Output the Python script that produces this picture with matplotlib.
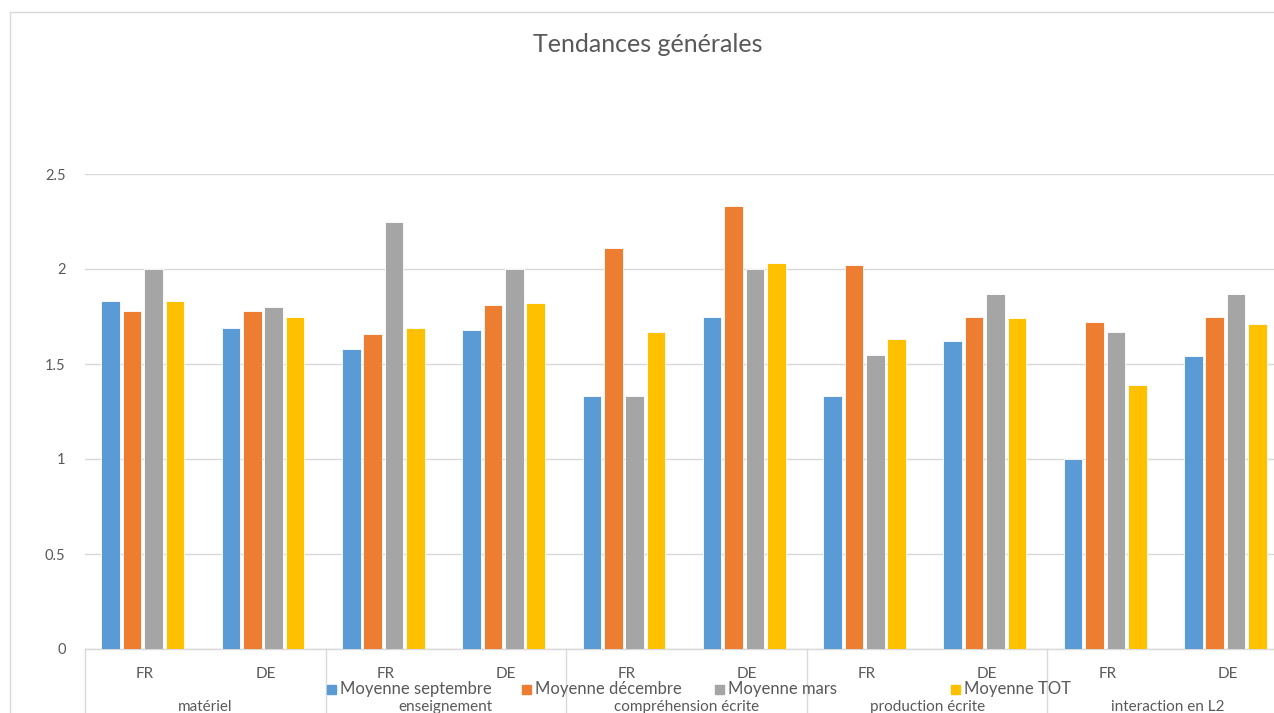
import numpy as np
import matplotlib.pyplot as plt
from matplotlib.lines import Line2D
from matplotlib.patches import Rectangle
from matplotlib.transforms import blended_transform_factory

plt.rcParams['font.family'] = ['Lato', 'DejaVu Sans']

# Données : 5 thèmes x 2 langues, 4 moyennes
themes = ['matériel', 'enseignement', 'compréhension écrite', 'production écrite', 'interaction en L2']
langues = ['FR', 'DE']
series = ['Moyenne septembre', 'Moyenne décembre', 'Moyenne mars', 'Moyenne TOT']
septembre = [1.83, 1.69, 1.58, 1.68, 1.33, 1.75, 1.33, 1.62, 1.00, 1.54]
decembre = [1.78, 1.78, 1.66, 1.81, 2.11, 2.33, 2.02, 1.75, 1.72, 1.75]
mars = [2.00, 1.80, 2.25, 2.00, 1.33, 2.00, 1.55, 1.87, 1.67, 1.87]
tot = [1.83, 1.75, 1.69, 1.82, 1.67, 2.03, 1.63, 1.74, 1.39, 1.71]

couleurs = ['#5B9BD5', '#ED7D31', '#A5A5A5', '#FFC000']
gris_texte = '#595959'
gris_ligne = '#D9D9D9'

W, H = 1274, 713
fig = plt.figure(figsize=(W / 100, H / 100), dpi=100)
ax = fig.add_axes([85 / W, 64 / H, (1288 - 85) / W, (649 - 174) / H])

x = np.arange(len(septembre))
pas = 0.178
for i, vals in enumerate([septembre, decembre, mars, tot]):
    ax.bar(x + (i - 1.5) * pas - 0.02, vals, width=0.155, color=couleurs[i],
           edgecolor='white', linewidth=0.6, zorder=3)

ax.set_xlim(-0.5, len(septembre) - 0.5)
ax.set_ylim(0, 2.5)
ax.set_yticks([0, 0.5, 1, 1.5, 2, 2.5])
ax.set_yticklabels(['0', '0.5', '1', '1.5', '2', '2.5'])
ax.grid(axis='y', color=gris_ligne, linewidth=1, zorder=0)
ax.tick_params(axis='y', length=0, pad=14, labelsize=10.5, labelcolor=gris_texte)
ax.set_xticks([])
for s in ['top', 'right', 'left']:
    ax.spines[s].set_visible(False)
ax.spines['bottom'].set_color(gris_ligne)
ax.spines['bottom'].set_linewidth(1)

# axe des catégories à deux niveaux
tr = blended_transform_factory(ax.transData, fig.transFigure)
for k in range(len(themes) + 1):
    xs = 2 * k - 0.5
    ax.add_line(Line2D([xs, xs], [64 / H, 0], transform=tr, color=gris_ligne,
                       linewidth=1, clip_on=False))
for j in range(len(septembre)):
    ax.text(j, 1 - 674 / H, langues[j % 2], transform=tr, ha='center', va='center',
            fontsize=11, color=gris_texte)
for k, t in enumerate(themes):
    ax.text(2 * k + 0.5, 1 - 707 / H, t, transform=tr, ha='center', va='center',
            fontsize=11, color=gris_texte)

# légende
pos_legende = [327, 522, 715, 951]
for i, nom in enumerate(series):
    fig.add_artist(Rectangle((pos_legende[i] / W, 1 - 694 / H), 9 / W, 9 / H,
                             transform=fig.transFigure, color=couleurs[i]))
    fig.text((pos_legende[i] + 13) / W, 1 - 689 / H, nom, ha='left', va='center',
             fontsize=12, color=gris_texte)

# cadre du graphique
fig.add_artist(Line2D([10 / W, 10 / W], [0, 1 - 12 / H], color=gris_ligne, linewidth=1))
fig.add_artist(Line2D([10 / W, 1], [1 - 12 / H, 1 - 12 / H], color=gris_ligne, linewidth=1))

fig.text(648 / W, 1 - 45 / H, 'Tendances générales', ha='center', va='center',
         fontsize=18, color=gris_texte)

fig.savefig('out.png', dpi=100)
